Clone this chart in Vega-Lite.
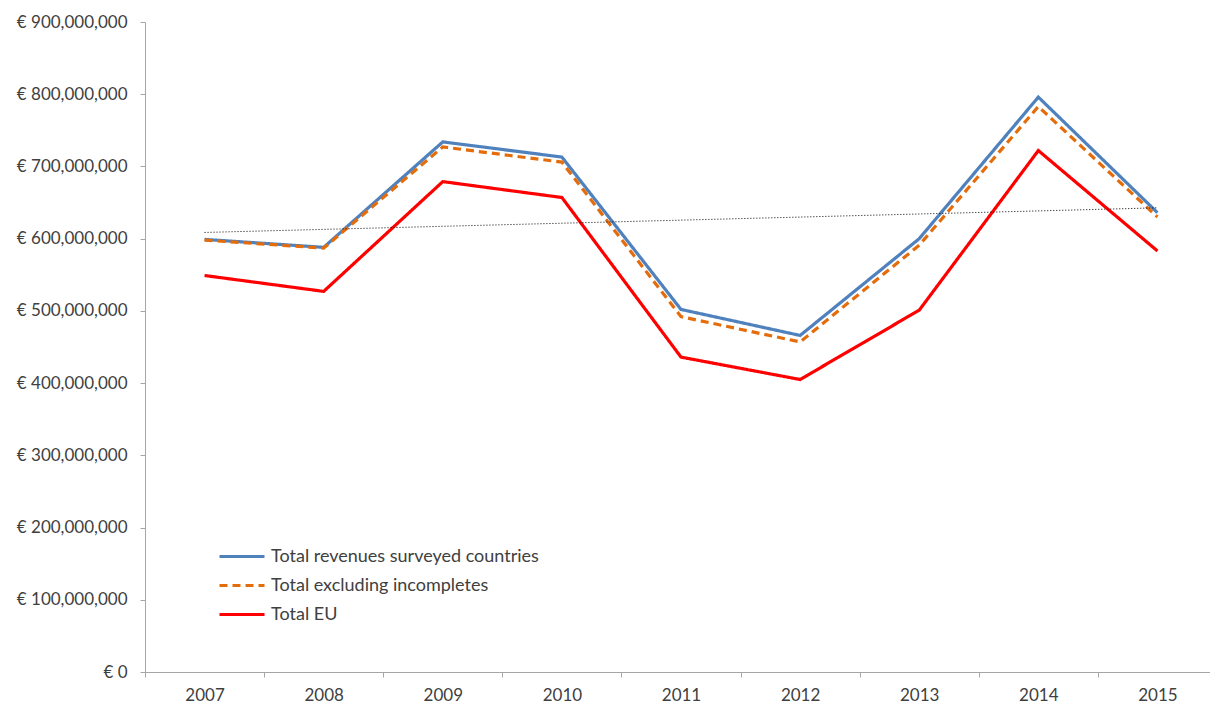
{
  "$schema": "https://vega.github.io/schema/vega-lite/v6.json",
  "width": 1072,
  "height": 650,
  "autosize": {"type": "none"},
  "padding": {"left": 145, "top": 22, "right": 0, "bottom": 34},
  "config": {
    "view": {"stroke": null},
    "font": "Lato"
  },
  "datasets": {
    "series": [
      {"year": 2007, "series": "Total revenues surveyed countries", "value": 599000000},
      {"year": 2008, "series": "Total revenues surveyed countries", "value": 588000000},
      {"year": 2009, "series": "Total revenues surveyed countries", "value": 734000000},
      {"year": 2010, "series": "Total revenues surveyed countries", "value": 713000000},
      {"year": 2011, "series": "Total revenues surveyed countries", "value": 502000000},
      {"year": 2012, "series": "Total revenues surveyed countries", "value": 466000000},
      {"year": 2013, "series": "Total revenues surveyed countries", "value": 600000000},
      {"year": 2014, "series": "Total revenues surveyed countries", "value": 796000000},
      {"year": 2015, "series": "Total revenues surveyed countries", "value": 636000000},
      {"year": 2007, "series": "Total excluding incompletes", "value": 598000000},
      {"year": 2008, "series": "Total excluding incompletes", "value": 587000000},
      {"year": 2009, "series": "Total excluding incompletes", "value": 727000000},
      {"year": 2010, "series": "Total excluding incompletes", "value": 706000000},
      {"year": 2011, "series": "Total excluding incompletes", "value": 492000000},
      {"year": 2012, "series": "Total excluding incompletes", "value": 457000000},
      {"year": 2013, "series": "Total excluding incompletes", "value": 591000000},
      {"year": 2014, "series": "Total excluding incompletes", "value": 783000000},
      {"year": 2015, "series": "Total excluding incompletes", "value": 630000000},
      {"year": 2007, "series": "Total EU", "value": 549000000},
      {"year": 2008, "series": "Total EU", "value": 527000000},
      {"year": 2009, "series": "Total EU", "value": 679000000},
      {"year": 2010, "series": "Total EU", "value": 657000000},
      {"year": 2011, "series": "Total EU", "value": 436000000},
      {"year": 2012, "series": "Total EU", "value": 405000000},
      {"year": 2013, "series": "Total EU", "value": 501000000},
      {"year": 2014, "series": "Total EU", "value": 722000000},
      {"year": 2015, "series": "Total EU", "value": 583000000}
    ],
    "trend": [
      {"year": 2007, "trend": 608600000},
      {"year": 2015, "trend": 642700000}
    ]
  },
  "layer": [
    {
      "data": {"name": "series"},
      "mark": {"type": "line", "strokeWidth": 3.2},
      "encoding": {
        "x": {
          "field": "year",
          "type": "ordinal",
          "title": null,
          "axis": {
            "labelAngle": 0,
            "tickBand": "extent",
            "domainColor": "#A6A6A6",
            "tickColor": "#A6A6A6",
            "tickSize": 5,
            "labelFont": "Lato",
            "labelFontSize": 17,
            "labelColor": "#404040",
            "labelPadding": 10,
            "grid": false
          }
        },
        "y": {
          "field": "value",
          "type": "quantitative",
          "title": null,
          "scale": {"domain": [0, 900000000], "nice": false},
          "axis": {
            "values": [0, 100000000, 200000000, 300000000, 400000000, 500000000, 600000000, 700000000, 800000000, 900000000],
            "labelExpr": "'€ ' + format(datum.value, ',')",
            "domainColor": "#A6A6A6",
            "tickColor": "#A6A6A6",
            "tickSize": 5,
            "labelFont": "Lato",
            "labelFontSize": 17,
            "labelColor": "#404040",
            "labelPadding": 13,
            "grid": false
          }
        },
        "color": {
          "field": "series",
          "type": "nominal",
          "title": null,
          "scale": {
            "domain": ["Total revenues surveyed countries", "Total excluding incompletes", "Total EU"],
            "range": ["#4F81BD", "#E46C0A", "#FF0000"]
          },
          "legend": {
            "orient": "none",
            "legendX": 73,
            "legendY": 520,
            "padding": 0,
            "symbolType": "stroke",
            "symbolSize": 2025,
            "symbolStrokeWidth": 3,
            "labelFont": "Lato",
            "labelFontSize": 18,
            "labelColor": "#404040",
            "labelOffset": 5,
            "labelLimit": 0,
            "rowPadding": 0,
            "clipHeight": 29
          }
        },
        "strokeDash": {
          "field": "series",
          "type": "nominal",
          "title": null,
          "scale": {
            "domain": ["Total revenues surveyed countries", "Total excluding incompletes", "Total EU"],
            "range": [[1, 0], [8, 5], [1, 0]]
          },
          "legend": {
            "orient": "none",
            "legendX": 73,
            "legendY": 520,
            "padding": 0,
            "symbolType": "stroke",
            "symbolSize": 2025,
            "symbolStrokeWidth": 3,
            "labelFont": "Lato",
            "labelFontSize": 18,
            "labelColor": "#404040",
            "labelOffset": 5,
            "labelLimit": 0,
            "rowPadding": 0,
            "clipHeight": 29
          }
        }
      }
    },
    {
      "data": {"name": "trend"},
      "mark": {"type": "line", "color": "#000000", "strokeWidth": 1, "strokeDash": [1, 2]},
      "encoding": {
        "x": {"field": "year", "type": "ordinal"},
        "y": {"field": "trend", "type": "quantitative"}
      }
    }
  ]
}
